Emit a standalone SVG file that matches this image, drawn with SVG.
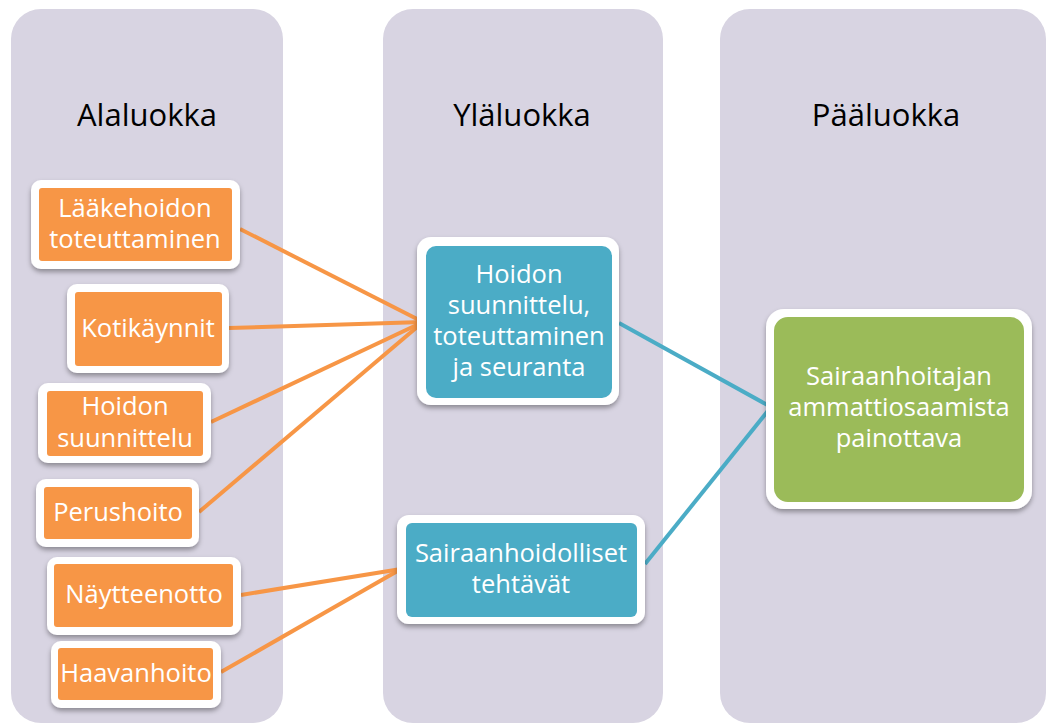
<svg xmlns="http://www.w3.org/2000/svg" width="1048" height="725" viewBox="0 0 1048 725">
<defs>
<filter id="sh" x="-10%" y="-10%" width="120%" height="130%">
<feDropShadow dx="0" dy="3" stdDeviation="2.5" flood-color="#000" flood-opacity="0.35"/>
</filter>
</defs>
<style>
.col{fill:#D8D4E2}
.hdr{font-family:"Open Sans","Liberation Sans",sans-serif;font-size:31px;fill:#000;text-anchor:middle}
.frame{fill:#fff;filter:url(#sh)}
.or{fill:#F79646}
.bl{fill:#4BACC6}
.gr{fill:#9BBB59}
.t{font-family:"Open Sans","Liberation Sans",sans-serif;font-size:25.5px;fill:#fff;text-anchor:middle}
.co{stroke:#F79646;stroke-width:4;fill:none}
.cb{stroke:#4BACC6;stroke-width:4;fill:none}
</style>
<rect width="1048" height="725" fill="#fff"/>
<g id="col1"><rect class="col" x="11" y="9" width="272" height="714" rx="30"/><text class="hdr" x="147" y="126">Alaluokka</text></g>
<g id="col2"><rect class="col" x="383" y="9" width="280" height="714" rx="30"/><text class="hdr" x="522" y="126">Yläluokka</text></g>
<g id="col3"><rect class="col" x="720" y="9" width="326" height="714" rx="30"/><text class="hdr" x="886" y="126">Pääluokka</text></g>
<g id="connectors">
<line class="co" x1="240" y1="229" x2="423" y2="322"/>
<line class="co" x1="229" y1="328" x2="423" y2="322"/>
<line class="co" x1="211" y1="422" x2="423" y2="322"/>
<line class="co" x1="199" y1="512" x2="423" y2="322"/>
<line class="co" x1="241" y1="595" x2="401" y2="569"/>
<line class="co" x1="221" y1="672" x2="401" y2="569"/>
<line class="cb" x1="619" y1="323" x2="771" y2="407"/>
<line class="cb" x1="645" y1="564" x2="771" y2="407"/>
</g>
<g id="n1"><rect class="frame" x="31" y="180" width="209" height="89" rx="10"/><rect class="or" x="39" y="188" width="193" height="73" rx="3"/><text class="t" x="135" y="217">Lääkehoidon</text><text class="t" x="135" y="248">toteuttaminen</text></g>
<g id="n2"><rect class="frame" x="67" y="284" width="162" height="89" rx="10"/><rect class="or" x="75" y="292" width="147" height="74" rx="3"/><text class="t" x="148" y="337">Kotikäynnit</text></g>
<g id="n3"><rect class="frame" x="38" y="383" width="173" height="80" rx="10"/><rect class="or" x="47" y="391" width="156" height="65" rx="3"/><text class="t" x="125" y="415">Hoidon</text><text class="t" x="125" y="447">suunnittelu</text></g>
<g id="n4"><rect class="frame" x="36" y="479" width="163" height="68" rx="10"/><rect class="or" x="44" y="487" width="148" height="52" rx="3"/><text class="t" x="118" y="521">Perushoito</text></g>
<g id="n5"><rect class="frame" x="47" y="557" width="194" height="78" rx="10"/><rect class="or" x="54" y="564" width="179" height="63" rx="3"/><text class="t" x="144" y="603">Näytteenotto</text></g>
<g id="n6"><rect class="frame" x="51" y="641" width="170" height="67" rx="10"/><rect class="or" x="58" y="648" width="155" height="52" rx="3"/><text class="t" x="136" y="682">Haavanhoito</text></g>
<g id="n7"><rect class="frame" x="417" y="237" width="202" height="168" rx="14"/><rect class="bl" x="426" y="246" width="186" height="152" rx="10"/><text class="t" x="519" y="283">Hoidon</text><text class="t" x="519" y="314">suunnittelu,</text><text class="t" x="519" y="345">toteuttaminen</text><text class="t" x="519" y="376">ja seuranta</text></g>
<g id="n8"><rect class="frame" x="397" y="515" width="248" height="109" rx="12"/><rect class="bl" x="406" y="523" width="231" height="94" rx="6"/><text class="t" x="521" y="562">Sairaanhoidolliset</text><text class="t" x="521" y="593">tehtävät</text></g>
<g id="n9"><rect class="frame" x="766" y="309" width="266" height="200" rx="18"/><rect class="gr" x="774" y="317" width="250" height="185" rx="14"/><text class="t" x="899" y="385">Sairaanhoitajan</text><text class="t" x="899" y="416">ammattiosaamista</text><text class="t" x="899" y="447">painottava</text></g>
</svg>
